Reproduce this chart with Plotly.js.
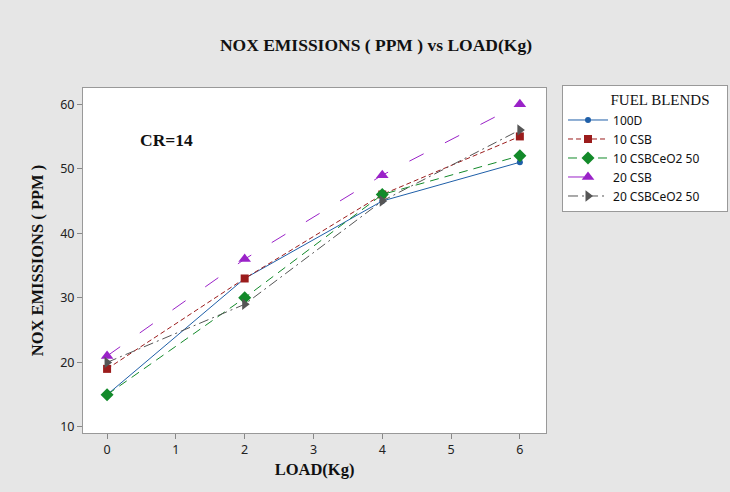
<!DOCTYPE html>
<html><head><meta charset="utf-8">
<script src="https://cdn.plot.ly/plotly-3.0.1.min.js"></script>
<style>html,body{margin:0;padding:0;background:#e6e6e6}</style>
</head><body>
<div id="chart" style="width:730px;height:492px"></div>
<script>
const load = [0, 2, 4, 6];
const seriesNames = ["100D", "10 CSB", "10 CSBCeO2 50", "20 CSB", "20 CSBCeO2 50"];
const d100D = [15, 33, 45, 51];
const csb10 = [19, 33, 46, 55];
const csbCeO10 = [15, 30, 46, 52];
const csb20 = [21, 36, 49, 60];
const csbCeO20 = [20, 29, 45, 56];
const xTicks = [0, 1, 2, 3, 4, 5, 6];
const yTicks = [10, 20, 30, 40, 50, 60];

const values = [d100D, csb10, csbCeO10, csb20, csbCeO20];
const colors = ["#1f5fa8", "#9b1c1c", "#138a2a", "#9a22c8", "#555555"];
const symbols = ["circle", "square", "diamond", "triangle-up", "triangle-right"];
const sizes = [6, 8, 10, 11, 10];
const dashes = ["solid", "5px,3px", "9px,6px", "16px,24px", "10px,4px,2px,4px"];

const traces = values.map((v, i) => ({
  x: load, y: v, name: seriesNames[i], type: "scatter", mode: "lines+markers",
  line: {color: colors[i], width: 1, dash: dashes[i]},
  marker: {color: colors[i], symbol: symbols[i], size: sizes[i]}
}));

const serif = "Liberation Serif, Times New Roman, serif";
const sans = "Noto Sans, Open Sans, sans-serif";

const layout = {
  width: 730, height: 492,
  paper_bgcolor: "#e6e6e6", plot_bgcolor: "#ffffff",
  margin: {l: 83, r: 184, t: 88, b: 59, autoexpand: false},
  title: {text: "<b>NOX EMISSIONS ( PPM ) vs LOAD(Kg)</b>", font: {family: serif, size: 17.5, color: "#111"}, x: 0.515, xanchor: "center", y: 0.908, yanchor: "middle"},
  xaxis: {range: [-0.35, 6.38], tickvals: xTicks, ticks: "outside", ticklen: 5, tickcolor: "#888",
    showgrid: false, zeroline: false, showline: true, linecolor: "#999", mirror: true,
    tickfont: {family: sans, size: 12.5, color: "#222"},
    title: {text: "<b>LOAD(Kg)</b>", font: {family: serif, size: 16.5, color: "#111"}, standoff: 6}},
  yaxis: {range: [9.07, 62.5], tickvals: yTicks, ticks: "outside", ticklen: 5, tickcolor: "#888",
    showgrid: false, zeroline: false, showline: true, linecolor: "#999", mirror: true,
    tickfont: {family: sans, size: 12.5, color: "#222"},
    title: {text: "<b>NOX EMISSIONS ( PPM )</b>", font: {family: serif, size: 16.5, color: "#111"}, standoff: 12}},
  legend: {x: 1.0346, xref: "paper", y: 1.0087, yref: "paper", xanchor: "left", yanchor: "top",
    bgcolor: "#ffffff", bordercolor: "#999", borderwidth: 1,
    font: {family: sans, size: 12, color: "#111"},
    title: {text: "&nbsp;".repeat(12) + "FUEL BLENDS" + "&nbsp;".repeat(4), font: {family: serif, size: 15, color: "#111"}, side: "top center"},
    tracegroupgap: 0, itemwidth: 40},
  annotations: [{text: "<b>CR=14</b>", x: 0.87, y: 54.5, xref: "x", yref: "y", showarrow: false,
    font: {family: serif, size: 17.5, color: "#111"}}],
  showlegend: true
};
Plotly.newPlot("chart", traces, layout, {displayModeBar: false});
</script>
</body></html>
